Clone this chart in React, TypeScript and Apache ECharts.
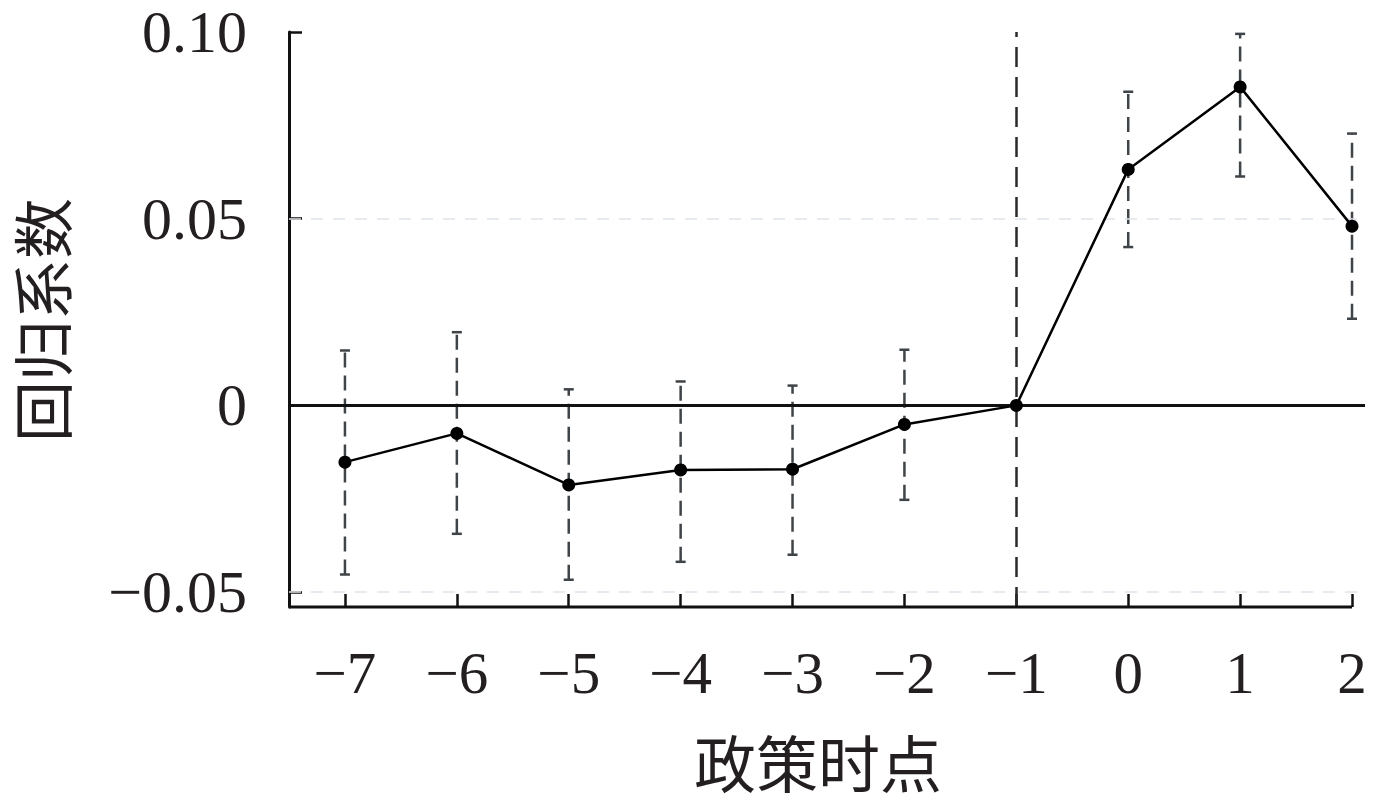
import React, { useEffect, useRef } from "react";
import * as echarts from "echarts";

const periods = [-7, -6, -5, -4, -3, -2, -1, 0, 1, 2];
const coef = [-0.0152, -0.0075, -0.0213, -0.0173, -0.0171, -0.0051, 0, 0.0632, 0.0853, 0.048];
const ciUpper = [0.0147, 0.0196, 0.0043, 0.0064, 0.0053, 0.0149, 0, 0.084, 0.0995, 0.0728];
const ciLower = [-0.0453, -0.0344, -0.0467, -0.0419, -0.04, -0.0253, 0, 0.0424, 0.0613, 0.0232];
const yTicks = [-0.05, 0, 0.05, 0.1];
const gridLineValues = [-0.05, 0.05];
const eventPeriod = -1;
const xMin = -7.5;
const xMax = 2.116;
const yMin = -0.054;
const yMax = 0.1;
const xTitle = "政策时点";
const yTitle = "回归系数";

const fmt = (v: number, digits: number) => {
  if (Math.abs(v) < 1e-9) return "0";
  const s = Math.abs(v).toFixed(digits);
  return v < 0 ? "\u2212" + s : s;
};

const TEXT = "#231f20";
const SERIF = "'Liberation Serif', 'Times New Roman', serif";
const CJK = "'Noto Sans CJK SC', sans-serif";

export default function App() {
  const ref = useRef<HTMLDivElement>(null);
  useEffect(() => {
    if (!ref.current) return;
    const chart = echarts.init(ref.current, null, { renderer: "svg" });
    const errData = periods
      .map((p, i) => [p, ciLower[i], ciUpper[i]])
      .filter((d) => d[2] - d[1] > 1e-9);
    const option: any = {
      animation: false,
      backgroundColor: "#fff",
      grid: { left: 289, right: 13, top: 32, bottom: 187 },
      xAxis: {
        type: "value",
        min: xMin,
        max: xMax,
        axisLine: { show: false, onZero: false },
        splitLine: { show: false },
        axisTick: {
          show: true,
          inside: true,
          length: 13,
          customValues: periods,
          lineStyle: { color: "#111", width: 2.5 },
        },
        axisLabel: {
          customValues: periods,
          formatter: (v: number) => fmt(v, 0),
          color: TEXT,
          fontFamily: SERIF,
          fontSize: 59,
          margin: 36,
        },
      },
      yAxis: {
        type: "value",
        min: yMin,
        max: yMax,
        axisLine: { show: true, onZero: false, lineStyle: { color: "#111", width: 3 } },
        splitLine: { show: false },
        axisTick: {
          show: true,
          inside: true,
          length: 13,
          customValues: yTicks,
          lineStyle: { color: "#111", width: 2.5 },
        },
        axisLabel: {
          customValues: yTicks,
          formatter: (v: number) => fmt(v, 2),
          color: TEXT,
          fontFamily: SERIF,
          fontSize: 60,
          margin: 42,
        },
      },
      graphic: [
        {
          type: "text",
          left: 818 - 124,
          top: 730,
          style: { text: xTitle, fill: TEXT, font: `62px ${CJK}`, lineHeight: 62 },
        },
        {
          type: "text",
          left: 10,
          top: 198,
          rotation: Math.PI / 2,
          originX: 0,
          originY: 0,
          style: {
            text: yTitle,
            fill: TEXT,
            font: `61px ${CJK}`,
            lineHeight: 61,
          },
        },
      ],
      series: [
        {
          type: "line",
          data: [
            [xMin, yMin],
            [periods[periods.length - 1], yMin],
          ],
          symbol: "none",
          clip: false,
          silent: true,
          lineStyle: { color: "#111", width: 3 },
          z: 5,
        },
        {
          type: "custom",
          data: errData,
          clip: false,
          silent: true,
          z: 3,
          renderItem: (params: any, api: any) => {
            const x = api.value(0);
            const lo = api.coord([x, api.value(1)]);
            const hi = api.coord([x, api.value(2)]);
            const cap = 5;
            const style = { stroke: "#3f4448", lineWidth: 2.5 };
            return {
              type: "group",
              children: [
                {
                  type: "line",
                  shape: { x1: lo[0], y1: lo[1], x2: hi[0], y2: hi[1] },
                  style: { ...style, lineDash: [15, 8] },
                },
                {
                  type: "line",
                  shape: { x1: hi[0] - cap, y1: hi[1], x2: hi[0] + cap, y2: hi[1] },
                  style,
                },
                {
                  type: "line",
                  shape: { x1: lo[0] - cap, y1: lo[1], x2: lo[0] + cap, y2: lo[1] },
                  style,
                },
              ],
            };
          },
        },
        {
          type: "line",
          data: periods.map((p, i) => [p, coef[i]]),
          symbol: "circle",
          symbolSize: 13,
          itemStyle: { color: "#000" },
          lineStyle: { color: "#000", width: 2.5 },
          z: 6,
          markLine: {
            silent: true,
            symbol: "none",
            label: { show: false },
            data: [
              ...gridLineValues.map((v) => ({
                yAxis: v,
                lineStyle: { color: "#dfe5ea", width: 1.5, type: [12, 10] },
              })),
              { yAxis: 0, lineStyle: { color: "#111", width: 3, type: "solid" } },
              { xAxis: eventPeriod, lineStyle: { color: "#2a2a2a", width: 2.5, type: [20, 10] } },
            ],
          },
        },
      ],
    };
    chart.setOption(option);
    return () => chart.dispose();
  }, []);
  return <div ref={ref} style={{ width: 1378, height: 794, position: "absolute", left: 0, top: 0 }} />;
}
